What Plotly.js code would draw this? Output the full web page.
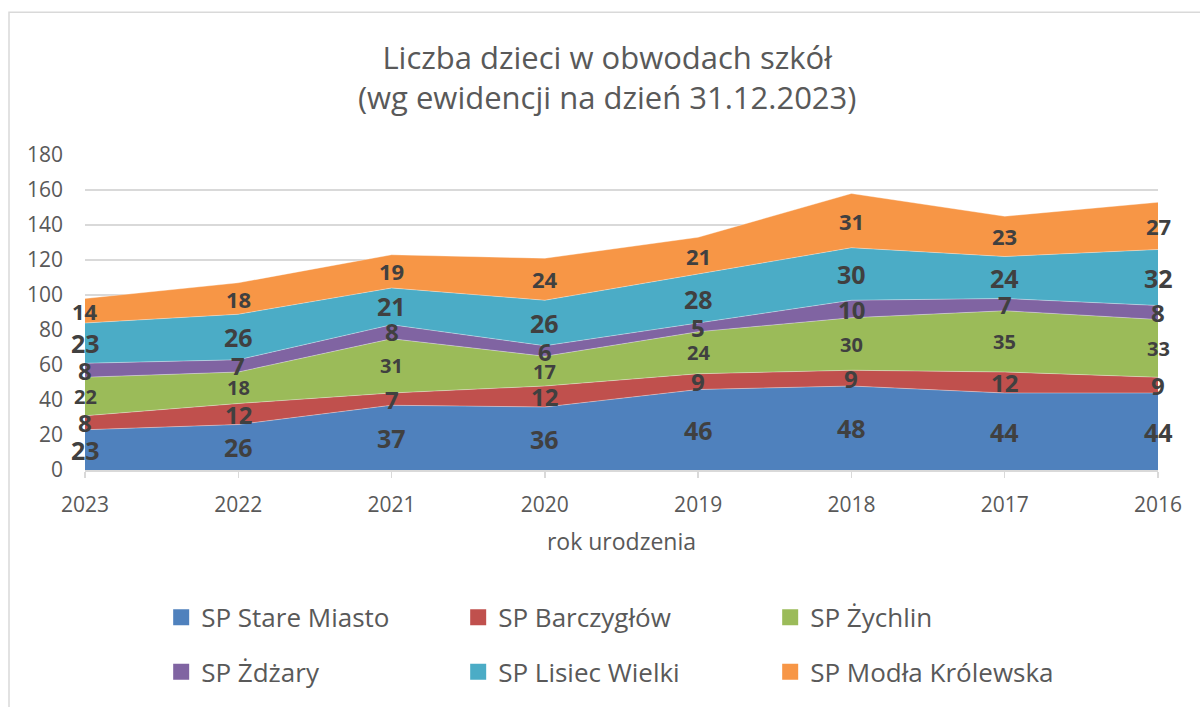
<!DOCTYPE html>
<html>
<head>
<meta charset="utf-8">
<script src="https://cdn.plot.ly/plotly-3.0.1.min.js"></script>
<style>html,body{margin:0;padding:0;background:#fff;}#chart{width:1200px;height:707px;}</style>
</head>
<body>
<div id="chart"></div>
<script>
// ---- data ----
const years = ["2023", "2022", "2021", "2020", "2019", "2018", "2017", "2016"];
const seriesNames = ["SP Stare Miasto", "SP Barczygłów", "SP Żychlin", "SP Żdżary", "SP Lisiec Wielki", "SP Modła Królewska"];
const stareMiasto   = [23, 26, 37, 36, 46, 48, 44, 44];
const barczyglow    = [8, 12, 7, 12, 9, 9, 12, 9];
const zychlin       = [22, 18, 31, 17, 24, 30, 35, 33];
const zdzary        = [8, 7, 8, 6, 5, 10, 7, 8];
const lisiecWielki  = [23, 26, 21, 26, 28, 30, 24, 32];
const modlaKrolewska= [14, 18, 19, 24, 21, 31, 23, 27];
const yTicks = [0, 20, 40, 60, 80, 100, 120, 140, 160, 180];

// ---- styles ----
const seriesValues = [stareMiasto, barczyglow, zychlin, zdzary, lisiecWielki, modlaKrolewska];
const colors = ["#4F81BD", "#C0504D", "#9BBB59", "#8064A2", "#4BACC6", "#F79646"];
const labelSizes = [25, 24, 20, 24, 25, 22];
const legendWidths = [252, 267, 300, 252, 267, 300];
const FONT = "'Open Sans', Calibri, Carlito, sans-serif";
const xIdx = years.map((_, i) => i);

const traces = [];
seriesValues.forEach((vals, s) => {
  traces.push({
    type: "scatter", mode: "lines", x: xIdx, y: vals, stackgroup: "one",
    name: seriesNames[s], line: {width: 0.6, color: "rgba(255,255,255,0.6)"},
    fillcolor: colors[s], showlegend: false, hoverinfo: "name+y"
  });
});
// legend entries (square swatches)
seriesValues.forEach((vals, s) => {
  traces.push({
    type: "scatter", mode: "markers", x: [null], y: [null],
    name: seriesNames[s], marker: {symbol: "square", size: 17, color: colors[s]},
    showlegend: true, legend: s < 3 ? "legend" : "legend2", legendwidth: legendWidths[s],
    hoverinfo: "skip"
  });
});

// data labels centered in bands
const annotations = [];
const cum = years.map(() => 0);
seriesValues.forEach((vals, s) => {
  vals.forEach((v, i) => {
    annotations.push({
      x: i, y: cum[i] + v / 2, xref: "x", yref: "y", text: String(v), showarrow: false,
      font: {family: FONT, size: labelSizes[s], color: "#404040", weight: "bold"},
      xanchor: "center", yanchor: "middle"
    });
    cum[i] += v;
  });
});

const legendBase = {
  orientation: "h", xanchor: "left", yanchor: "middle", x: 0.071, traceorder: "normal",
  font: {family: FONT, size: 26, color: "#595959"},
  bgcolor: "rgba(0,0,0,0)", itemclick: false
};

const layout = {
  width: 1200, height: 707,
  margin: {l: 85, r: 42, t: 155, b: 234},
  paper_bgcolor: "#ffffff", plot_bgcolor: "#ffffff",
  font: {family: FONT, color: "#595959"},
  title: {
    text: "Liczba dzieci w obwodach szkół<br>(wg ewidencji na dzień 31.12.2023)",
    font: {family: FONT, size: 31, color: "#595959"},
    x: 0.506, xanchor: "center", y: 0.903, yanchor: "middle", yref: "container"
  },
  xaxis: {
    range: [0, years.length - 1], tickmode: "array", tickvals: xIdx, ticktext: years,
    showgrid: false, zeroline: false, showline: true, linecolor: "#d9d9d9", linewidth: 1.5,
    ticks: "outside", ticklen: 6, tickcolor: "#d9d9d9", tickwidth: 1.5,
    tickfont: {family: FONT, size: 21, color: "#595959"}, ticklabelstandoff: 9,
    title: {text: "rok urodzenia", font: {family: FONT, size: 23, color: "#595959"}, standoff: 17},
    fixedrange: true
  },
  yaxis: {
    range: [0, 180], tickmode: "array", tickvals: yTicks,
    showgrid: true, gridcolor: "#d9d9d9", gridwidth: 1.3, zeroline: false, showline: false,
    tickfont: {family: FONT, size: 21, color: "#595959"}, ticklabelstandoff: 21,
    fixedrange: true
  },
  showlegend: true,
  legend: Object.assign({}, legendBase, {y: -0.468}),
  legend2: Object.assign({}, legendBase, {y: -0.641}),
  annotations: annotations,
  shapes: [{
    type: "rect", xref: "paper", yref: "paper",
    x0: (9 - 85) / 1073, x1: 1.2, y0: -1.0, y1: (473 - 11) / 318,
    line: {color: "#d9d9d9", width: 1.5}, fillcolor: "rgba(0,0,0,0)", layer: "below"
  }]
};

Plotly.newPlot("chart", traces, layout, {displayModeBar: false, staticPlot: true});
</script>
</body>
</html>
